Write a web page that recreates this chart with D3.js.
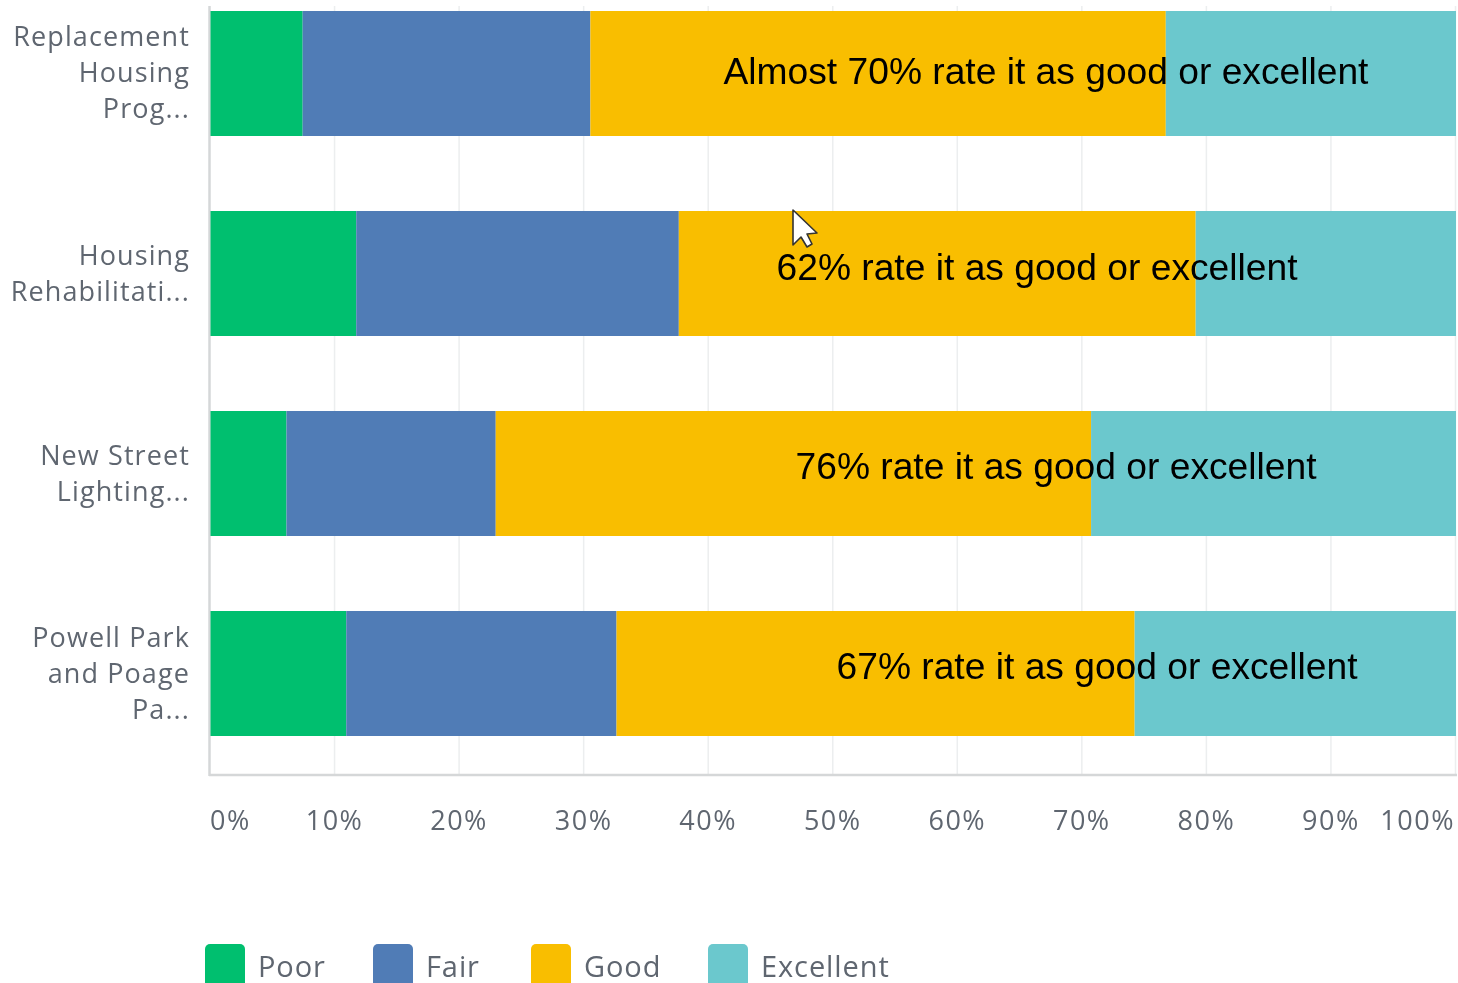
<!DOCTYPE html>
<html><head><meta charset="utf-8">
<script src="https://cdn.jsdelivr.net/npm/d3@7"></script>
<style>
html,body{margin:0;padding:0;background:#fff;overflow:hidden}
svg{display:block;filter:blur(0.45px)}
.lab{font-family:"Open Sans",sans-serif;fill:#5f6670;font-size:27px;letter-spacing:1.1px}
.tick{letter-spacing:1.5px}
.leg{font-family:"Open Sans",sans-serif;fill:#5f6670;font-size:29px;letter-spacing:0.9px}
.note{font-family:"Liberation Sans",Arial,sans-serif;fill:#000;font-size:37.2px}
</style></head><body>
<svg id="c" width="1458" height="983"></svg>
<script>
const categories = ["Replacement","Housing","New Street","Powell Park"];
const categoryLines = [["Replacement","Housing","Prog..."],["Housing","Rehabilitati..."],["New Street","Lighting..."],["Powell Park","and Poage","Pa..."]];
const seriesNames = ["Poor","Fair","Good","Excellent"];
const seriesColors = ["#00bf6f","#507cb6","#f9be00","#6bc8cd"];
const poor = [7.4,11.7,6.1,10.9];
const fair = [23.1,25.9,16.8,21.7];
const good = [46.2,41.5,47.8,41.6];
const excellent = [23.3,20.9,29.3,25.8];
const tickValues = [0,10,20,30,40,50,60,70,80,90,100];
const notes = ["Almost 70% rate it as good or excellent","62% rate it as good or excellent","76% rate it as good or excellent","67% rate it as good or excellent"];
const noteX = [1046,1037,1056,1097];
const noteY = [71,267,466,666];
const labelY = [73,283,483,674];
const legendX = [205,373,531,708];

const svg = d3.select("#c");
const x = d3.scaleLinear().domain([0,100]).range([210.5,1456]);
const yTop = d3.scaleLinear().domain([0,3]).range([11,611]);
const barH = 125;

// gridlines
svg.append("g").selectAll("line").data(tickValues.slice(1)).join("line")
  .attr("x1",d=>x(d)-0.5).attr("x2",d=>x(d)-0.5).attr("y1",6).attr("y2",775)
  .attr("stroke","#eceeef").attr("stroke-width",1.5);

// axis lines
svg.append("line").attr("x1",209.5).attr("x2",209.5).attr("y1",6).attr("y2",776).attr("stroke","#d5d7d8").attr("stroke-width",2.5);
svg.append("line").attr("x1",209).attr("x2",1457).attr("y1",775).attr("y2",775).attr("stroke","#d5d7d8").attr("stroke-width",2.5);

// stacked bars
const table = categories.map((c,i)=>({c,i,Poor:poor[i],Fair:fair[i],Good:good[i],Excellent:excellent[i]}));
const stack = d3.stack().keys(seriesNames)(table);
svg.append("g").selectAll("g").data(stack).join("g")
  .attr("fill",(d,i)=>seriesColors[i])
  .selectAll("rect").data(d=>d).join("rect")
  .attr("x",d=>x(d[0])).attr("width",d=>x(d[1])-x(d[0]))
  .attr("y",d=>yTop(d.data.i)).attr("height",barH);

// category labels
categoryLines.forEach((lines,i)=>{
  const g = svg.append("text").attr("class","lab").attr("text-anchor","end");
  lines.forEach((t,k)=>{
    g.append("tspan").attr("x",190).attr("y",labelY[i]+(k-(lines.length-1)/2)*36+ (lines.length===2?0:9)).text(t);
  });
});

// x tick labels
svg.append("g").selectAll("text").data(tickValues).join("text")
  .attr("class","lab tick")
  .attr("x",d=>d===0?210:d===100?1455:x(d)-0.5)
  .attr("y",830)
  .attr("text-anchor",d=>d===0?"start":d===100?"end":"middle")
  .text(d=>d+"%");

// annotations
svg.append("g").selectAll("text").data(notes).join("text")
  .attr("class","note").attr("text-anchor","middle")
  .attr("x",(d,i)=>noteX[i]).attr("y",(d,i)=>noteY[i]+13).text(d=>d);

// legend
const lg = svg.append("g").selectAll("g").data(seriesNames).join("g")
  .attr("transform",(d,i)=>`translate(${legendX[i]},944)`);
lg.append("rect").attr("width",40).attr("height",50).attr("rx",5).attr("fill",(d,i)=>seriesColors[i]);
lg.append("text").attr("class","leg").attr("x",53).attr("y",33).text(d=>d);

// mouse pointer
svg.append("path")
  .attr("d","M793 210 L793 245 L801 237 L807 247 L812 244 L807 234 L817 233 Z")
  .attr("fill","#fff").attr("stroke","#333").attr("stroke-width",1.6).attr("stroke-linejoin","round");
</script>
</body></html>
